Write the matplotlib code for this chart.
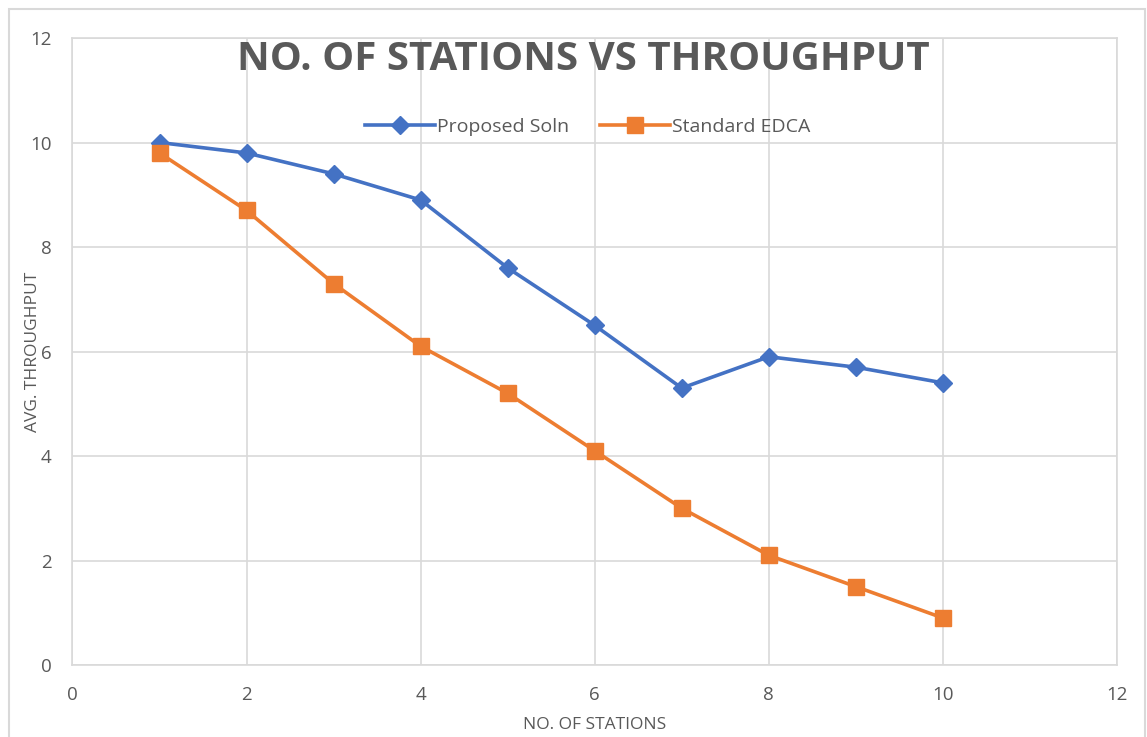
import matplotlib.pyplot as plt
from matplotlib.patches import Rectangle

stations = [1, 2, 3, 4, 5, 6, 7, 8, 9, 10]
proposed_soln = [10, 9.8, 9.4, 8.9, 7.6, 6.5, 5.3, 5.9, 5.7, 5.4]
standard_edca = [9.8, 8.7, 7.3, 6.1, 5.2, 4.1, 3.0, 2.1, 1.5, 0.9]
x_ticks = [0, 2, 4, 6, 8, 10, 12]
y_ticks = [0, 2, 4, 6, 8, 10, 12]

BLUE = "#4472C4"
ORANGE = "#ED7D31"
TEXT = "#595959"
GRID = "#D9D9D9"

plt.rcParams["font.family"] = ["Open Sans", "DejaVu Sans"]

fig = plt.figure(figsize=(11.47, 7.37), dpi=100)
ax = fig.add_axes([0.0632, 0.0977, 0.9106, 0.8507])

ax.plot(stations, proposed_soln, color=BLUE, lw=2.6, marker="D",
        markersize=9, label="Proposed Soln", zorder=3)
ax.plot(stations, standard_edca, color=ORANGE, lw=2.6, marker="s",
        markersize=12, label="Standard EDCA", zorder=3)

ax.set_xlim(0, 12)
ax.set_ylim(0, 12)
ax.set_xticks(x_ticks)
ax.set_yticks(y_ticks)
ax.grid(True, color=GRID, lw=1.2)
ax.set_axisbelow(True)
for s in ax.spines.values():
    s.set_color(GRID)
    s.set_linewidth(1.2)
ax.tick_params(length=0, labelsize=13.5, colors=TEXT)
ax.tick_params(axis="x", pad=15)
ax.tick_params(axis="y", pad=15)

ax.set_xlabel("NO. OF STATIONS", fontsize=12.5, color=TEXT)
ax.set_ylabel("AVG. THROUGHPUT", fontsize=12.5, color=TEXT)
ax.xaxis.set_label_coords(0.5, -0.083)
ax.yaxis.set_label_coords(-0.03, 0.5)

ax.text(0.4895, 0.965, "NO. OF STATIONS VS THROUGHPUT", transform=ax.transAxes,
        ha="center", va="center", fontsize=29, fontweight="bold", color=TEXT)

leg = ax.legend(loc="center", bbox_to_anchor=(0.493, 0.858), ncol=2,
                frameon=False, fontsize=14, handlelength=3.6,
                columnspacing=1.6, handletextpad=0.1, labelcolor=TEXT)

fig.patches.append(Rectangle((0.008, -0.01), 0.99, 0.998,
                             transform=fig.transFigure, fill=False,
                             edgecolor=GRID, lw=1.5))

fig.savefig("out.png", dpi=100)
